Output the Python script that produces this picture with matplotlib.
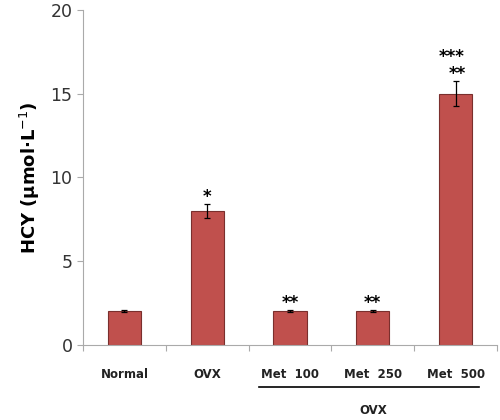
import matplotlib.pyplot as plt
import numpy as np

# 資料
groups = ["Normal", "OVX", "Met  100", "Met  250", "Met  500"]
values = [2.0, 8.0, 2.0, 2.0, 15.0]
errors = [0.06, 0.4, 0.06, 0.06, 0.75]
stars = ["", "*", "**", "**", "***"]
stars2 = ["", "", "", "", "**"]

plt.rcParams["font.family"] = ["DejaVu Sans"]

fig = plt.figure(figsize=(5, 4.2), dpi=100)
ax = fig.add_axes([0.166, 0.179, 0.828, 0.797])

x = np.arange(len(groups))
ax.bar(x, values, width=0.4, color="#C0504D", edgecolor="#7a2f2d", linewidth=0.8)
ax.errorbar(x, values, yerr=errors, fmt="none", ecolor="black", elinewidth=0.9,
            capsize=2.5, capthick=0.9)

# 顯著性星號
for i, (v, e, s) in enumerate(zip(values, errors, stars)):
    if s:
        dx = -0.05 if stars2[i] else 0
        y = v + e + (0.9 if stars2[i] else -0.1)
        ax.text(x[i] + dx, y, s, ha="center", va="bottom", fontsize=12, weight="bold")
    if stars2[i]:
        ax.text(x[i] + 0.02, v + e - 0.1, stars2[i], ha="center", va="bottom",
                fontsize=12, weight="bold")

ax.set_xlim(-0.5, len(groups) - 0.5)
ax.set_ylim(0, 20)
ax.set_yticks([0, 5, 10, 15, 20])
ax.tick_params(axis="y", labelsize=12.5, colors="#333333", length=4, color="#aaaaaa")

ax.set_xticks(np.arange(-0.5, len(groups), 1.0), minor=False)
ax.set_xticklabels([])
ax.tick_params(axis="x", length=4, color="#aaaaaa")
for i, g in enumerate(groups):
    ax.text(x[i], -1.8, g, ha="center", va="center", fontsize=8.5, weight="bold",
            color="#222222")

for side in ["top", "right"]:
    ax.spines[side].set_visible(False)
ax.spines["left"].set_color("#aaaaaa")
ax.spines["bottom"].set_color("#aaaaaa")

ax.set_ylabel("HCY (μmol·L$^{-1}$)", fontsize=13, weight="bold", labelpad=6)

# OVX 分組線
ax.plot([1.62, 4.28], [-2.55, -2.55], color="black", lw=1.2, clip_on=False)
ax.text(3.0, -3.95, "OVX", ha="center", va="center", fontsize=8.5, weight="bold",
        color="#222222")

plt.savefig("out.png", dpi=100)
plt.close()
